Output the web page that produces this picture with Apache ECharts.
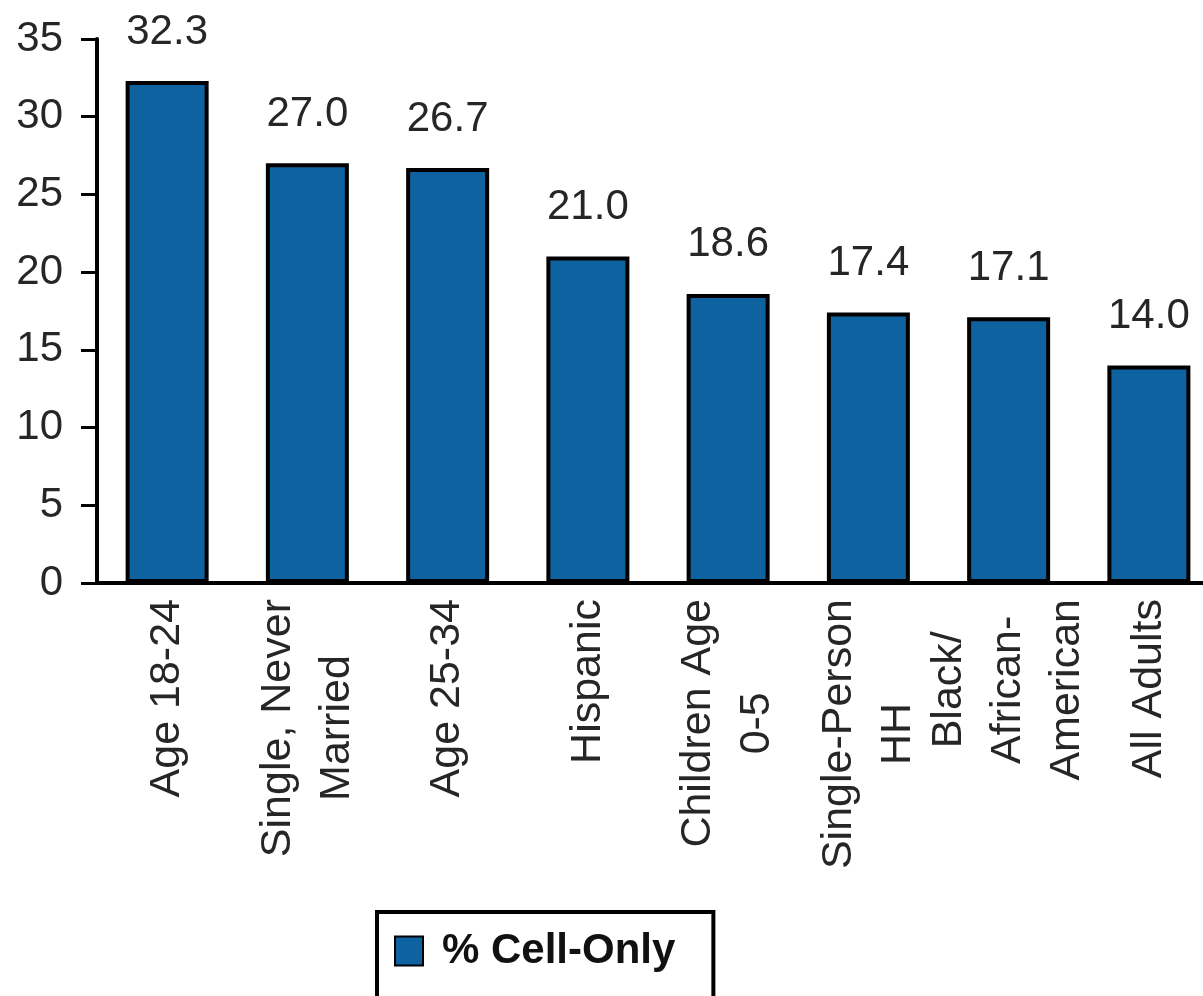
<!DOCTYPE html>
<html>
<head>
<meta charset="utf-8">
<title>% Cell-Only</title>
<script src="https://cdn.jsdelivr.net/npm/echarts@6/dist/echarts.min.js"></script>
<style>
  html, body {
    margin: 0;
    padding: 0;
    background: #fff;
  }
  #chart {
    width: 1203px;
    height: 996px;
  }
</style>
</head>
<body>
<div id="chart"></div>
<script>
// data
const categories = [
  'Age 18-24',
  'Single, Never\nMarried',
  'Age 25-34',
  'Hispanic',
  'Children Age\n0-5',
  'Single-Person\nHH',
  'Black/\nAfrican-\nAmerican',
  'All Adults'
]
const cellOnly = [32.3, 27.0, 26.7, 21.0, 18.6, 17.4, 17.1, 14.0]
const yTicks = [0, 5, 10, 15, 20, 25, 30, 35]
const seriesName = '% Cell-Only'

const font = "'Liberation Sans', Arial, sans-serif"
const textColor = '#262626'

const chart = echarts.init(document.getElementById('chart'))

const option = {
  animation: false,
  backgroundColor: '#fff',
  grid: {
    left: 97,
    top: 39,
    width: 1122,
    bottom: 413,
    containLabel: false,
    outerBoundsMode: 'none'
  },
  legend: {
    data: [seriesName],
    left: 377,
    top: 912,
    padding: [18, 38, 60, 17],
    borderColor: '#000',
    borderWidth: 4,
    backgroundColor: '#fff',
    icon: 'rect',
    itemWidth: 28,
    itemHeight: 29,
    textStyle: {
      fontFamily: font,
      fontSize: 42,
      fontWeight: 'bold',
      color: '#111',
      padding: [0, 0, 0, 14]
    }
  },
  xAxis: {
    type: 'category',
    data: categories,
    axisLine: {
      lineStyle: { color: '#000', width: 4 }
    },
    axisTick: { show: false },
    axisLabel: {
      interval: 0,
      rotate: 90,
      margin: 16,
      // center every line inside its block, like the original
      formatter (value) {
        return value.split('\n').map(s => '{c|' + s + '}').join('\n')
      },
      rich: {
        c: {
          align: 'center',
          fontFamily: font,
          fontSize: 43,
          lineHeight: 59,
          color: textColor
        }
      }
    }
  },
  yAxis: {
    type: 'value',
    min: yTicks[0],
    max: yTicks[yTicks.length - 1],
    interval: yTicks[1] - yTicks[0],
    splitLine: { show: false },
    axisLine: {
      show: true,
      lineStyle: { color: '#000', width: 4 }
    },
    axisTick: {
      show: true,
      length: 16,
      lineStyle: { color: '#000', width: 3 }
    },
    axisLabel: {
      margin: 34,
      fontFamily: font,
      fontSize: 42,
      color: textColor
    }
  },
  series: [
    {
      name: seriesName,
      type: 'bar',
      data: cellOnly,
      barWidth: 83,
      itemStyle: {
        color: '#0f62a0',
        borderColor: '#000',
        borderWidth: 4
      },
      label: {
        show: true,
        position: 'top',
        distance: 28,
        fontFamily: font,
        fontSize: 42,
        color: textColor,
        formatter (p) {
          return p.value.toFixed(1)
        }
      }
    }
  ]
}

chart.setOption(option)
</script>
</body>
</html>
